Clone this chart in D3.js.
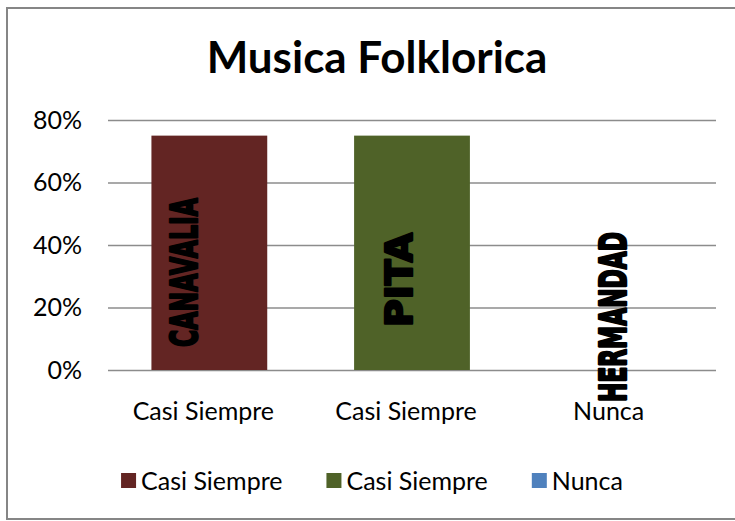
<!DOCTYPE html>
<html>
<head>
<meta charset="utf-8">
<script src="https://cdn.jsdelivr.net/npm/d3@7"></script>
<style>
    html, body { margin: 0; padding: 0; background: #fff; overflow: hidden; }
    #chart { width: 735px; height: 521px; }
    text { font-family: Lato, "Open Sans", sans-serif; fill: #000; }
</style>
</head>
<body>
<div id="chart"></div>
<script>
const categories = ['Casi Siempre', 'Casi Siempre', 'Nunca'];
const values = [0.75, 0.75, 0];
const barNotes = ['CANAVALIA', 'PITA', 'HERMANDAD'];
const yTicks = [0, 0.2, 0.4, 0.6, 0.8];
const legendLabels = ['Casi Siempre', 'Casi Siempre', 'Nunca'];

const BAR_COLORS = ['#632523', '#4f6228', '#4f81bd'];

// hand placed text boxes over the bars (px from bar base centre)
const NOTE_LAYOUT = [
    { dx: -26, dy: -23, len: 149 },
    { dx: -13, dy: -43, len: 94 },
    { dx: -2, dy: 32, len: 170 }
];

function drawChart() {
    const width = 735;
    const height = 521;
    const plot = { left: 108, right: 716, top: 120, bottom: 370 };

    const svg = d3.select('#chart')
        .append('svg')
        .attr('width', width)
        .attr('height', height);

    svg.append('rect')
        .attr('x', 7)
        .attr('y', 8)
        .attr('width', 740)
        .attr('height', 511)
        .attr('fill', '#fff')
        .attr('stroke', '#868686')
        .attr('stroke-width', 2);

    svg.append('text')
        .attr('x', 377)
        .attr('y', 73)
        .attr('text-anchor', 'middle')
        .style('font-size', '44px')
        .style('font-weight', 'bold')
        .text('Musica Folklorica');

    const xScale = d3.scaleBand()
        .domain(d3.range(categories.length))
        .range([plot.left, plot.right]);

    const yScale = d3.scaleLinear()
        .domain([0, 0.8])
        .range([plot.bottom, plot.top]);

    const yAxis = svg.append('g')
        .attr('transform', `translate(${plot.left},0)`)
        .call(d3.axisLeft(yScale)
            .tickValues(yTicks)
            .tickFormat(d3.format('.0%'))
            .tickSize(-(plot.right - plot.left))
            .tickPadding(26));
    yAxis.select('.domain').remove();
    yAxis.selectAll('line')
        .attr('stroke', '#8c8c8c')
        .attr('stroke-width', 1.6);
    yAxis.selectAll('text')
        .attr('font-family', null)
        .style('font-size', '25px');

    const barWidth = xScale.bandwidth() / 1.75;

    svg.selectAll('.bar')
        .data(values)
        .enter()
        .append('rect')
        .attr('class', 'bar')
        .attr('x', (d, i) => xScale(i) + (xScale.bandwidth() - barWidth) / 2)
        .attr('y', d => yScale(d))
        .attr('width', barWidth)
        .attr('height', d => yScale(0) - yScale(d))
        .attr('fill', (d, i) => BAR_COLORS[i]);

    const xAxis = svg.append('g')
        .attr('transform', `translate(0,${plot.bottom})`)
        .call(d3.axisBottom(xScale)
            .tickSize(0)
            .tickPadding(32)
            .tickFormat(i => categories[i]));
    xAxis.select('.domain').remove();
    xAxis.selectAll('text')
        .attr('font-family', null)
        .attr('dx', -6)
        .style('font-size', '25px');

    svg.selectAll('.bar-note')
        .data(barNotes)
        .enter()
        .append('text')
        .attr('class', 'bar-note')
        .attr('transform', (d, i) => {
            const cx = xScale(i) + xScale.bandwidth() / 2 + NOTE_LAYOUT[i].dx;
            const by = yScale(0) + NOTE_LAYOUT[i].dy;
            return `translate(${cx},${by}) rotate(-90)`;
        })
        .attr('dy', '0.36em')
        .attr('textLength', (d, i) => NOTE_LAYOUT[i].len)
        .attr('lengthAdjust', 'spacingAndGlyphs')
        .style('font-family', '"DejaVu Sans", sans-serif')
        .style('font-weight', 'bold')
        .style('font-size', '37px')
        .style('stroke', '#000')
        .style('stroke-width', 2.4)
        .style('stroke-linejoin', 'round')
        .text(d => d);

    // legend, centred under the chart
    const legend = svg.append('g');
    const items = legend.selectAll('.legend-item')
        .data(legendLabels)
        .enter()
        .append('g')
        .attr('class', 'legend-item');

    items.append('rect')
        .attr('width', 15)
        .attr('height', 15)
        .attr('y', -8)
        .attr('fill', (d, i) => BAR_COLORS[i]);

    items.append('text')
        .attr('x', 20)
        .attr('dy', '0.35em')
        .style('font-size', '25px')
        .text(d => d);

    let offset = 0;
    items.each(function () {
        const w = 20 + this.querySelector('text').getComputedTextLength();
        d3.select(this).attr('transform', `translate(${offset},0)`);
        offset += w + 44;
    });
    const total = offset - 44;
    legend.attr('transform', `translate(${372 - total / 2},481)`);
}

document.addEventListener('DOMContentLoaded', drawChart);
</script>
</body>
</html>
